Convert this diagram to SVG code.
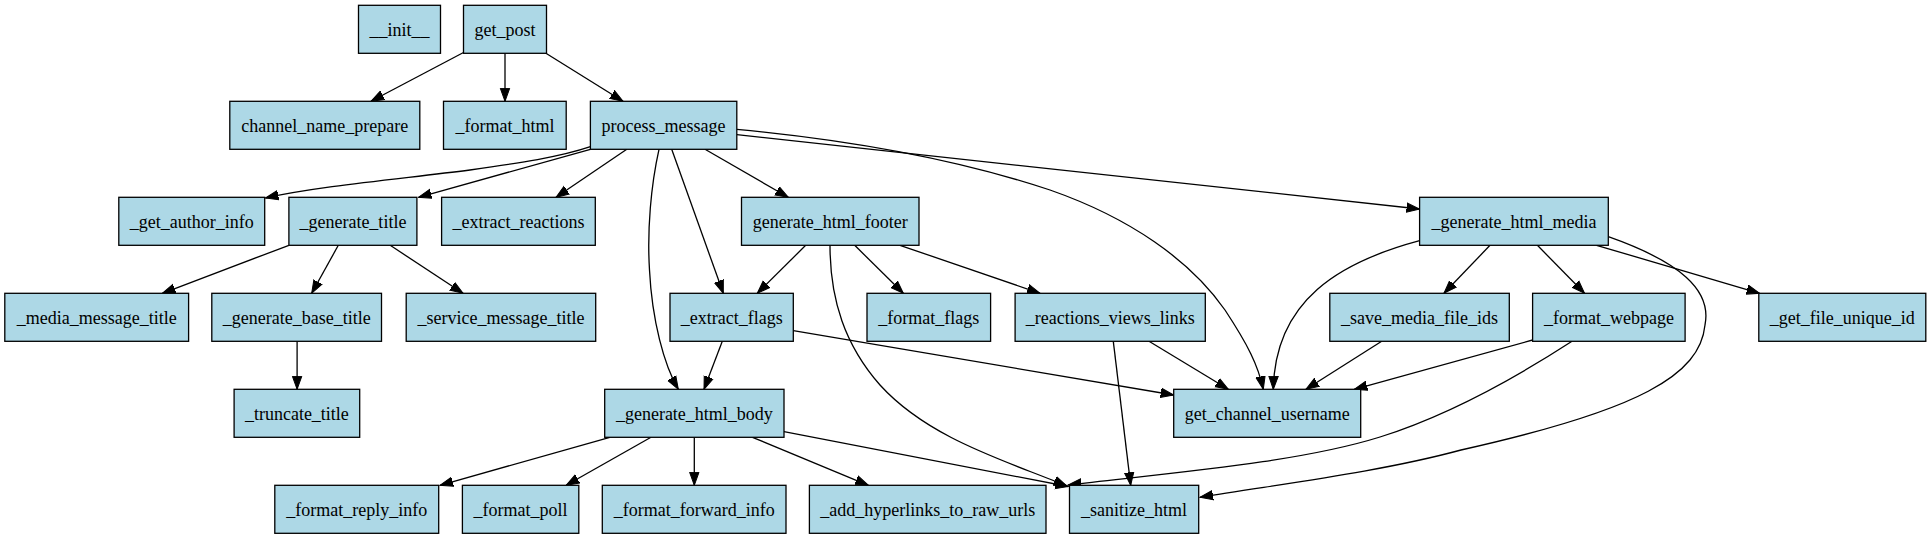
<svg xmlns="http://www.w3.org/2000/svg" width="1931" height="539" viewBox="0 0 1931 539">
<style>
.n rect{fill:#add8e6;stroke:#000;stroke-width:1.3}
.n text{font-family:"Liberation Serif","Times New Roman",serif;font-size:18px;fill:#000;text-anchor:middle}
.e path{fill:none;stroke:#000;stroke-width:1.3;marker-end:url(#ah)}
</style>
<defs>
<marker id="ah" markerUnits="userSpaceOnUse" markerWidth="14" markerHeight="12" refX="13" refY="5" orient="auto" viewBox="0 0 14 10">
<polygon points="0,0.3 13,5 0,9.7" fill="#000" stroke="#000" stroke-width="1"/>
</marker>
</defs>
<rect width="1931" height="539" fill="#fff"/>
<g id="connectors" class="e">
<path d="M463.5,52.5 L371,101.3"/>
<path d="M505,53.3 L505,101.3"/>
<path d="M545.5,53 L623,101.3"/>
<path d="M590.4,146.7 C560,157 520,163 470,170 C400,179 320,186 265.5,198"/>
<path d="M590.4,149.3 L418.5,197.3"/>
<path d="M626.8,149.3 L556,197.3"/>
<path d="M659,149.3 C651,185 647,230 649.5,270 C652,320 664,365 678.3,389.3"/>
<path d="M671.7,149.3 L723.3,293.3"/>
<path d="M705,149.3 L788.3,197.3"/>
<path d="M736.8,129.3 C850,140 960,160 1050,190 C1130,218 1190,260 1225,310 C1248,345 1258,365 1263.3,389.3"/>
<path d="M736.8,134.7 L1419.6,209"/>
<path d="M288.9,245.3 L162.4,293.3"/>
<path d="M338.3,245.3 L311.7,293.3"/>
<path d="M390.2,245.3 L463,293.3"/>
<path d="M297.1,341.3 L297.1,389.3"/>
<path d="M805.7,245.3 L757.3,293.3"/>
<path d="M854.7,245.3 L903.3,293.3"/>
<path d="M900,245.3 L1040,293.3"/>
<path d="M830,245.3 C830,300 845,345 880,385 C930,440 1010,462 1066.7,486"/>
<path d="M722.3,341.3 L704,389.3"/>
<path d="M793.3,330.7 L1173.7,395"/>
<path d="M1149,341.3 L1228.3,389.3"/>
<path d="M1113.3,341.3 L1130.7,485.3"/>
<path d="M1419.6,240.7 C1340,262 1275,300 1273.3,389.3"/>
<path d="M1490,245.3 L1444,293.3"/>
<path d="M1537.4,245.3 L1584.5,293.3"/>
<path d="M1596.6,245.3 L1759.6,293.3"/>
<path d="M1608.3,236.7 C1680,262 1712,290 1705,325 C1700,375 1640,410 1461,450 C1380,472 1280,484 1200,497.3"/>
<path d="M1381.7,341.3 L1306,389.3"/>
<path d="M1532.6,340 L1354.3,389.3"/>
<path d="M1572,341.3 C1520,375 1450,415 1380,437 C1300,462 1180,472 1068.3,485"/>
<path d="M609.8,437.3 L440,485.3"/>
<path d="M651,437.3 L566.2,485.3"/>
<path d="M694.3,437.3 L694.3,485.3"/>
<path d="M752.5,437.3 L868.3,485.3"/>
<path d="M784,431.7 L1068.3,486.5"/>
</g>
<g id="n_init" class="n"><rect x="358.5" y="5.3" width="82" height="48"/><text x="399.5" y="35.7">__init__</text></g>
<g id="n_get_post" class="n"><rect x="463.5" y="5.3" width="83" height="48"/><text x="505" y="35.7">get_post</text></g>
<g id="n_channel_name_prepare" class="n"><rect x="229.8" y="101.3" width="190" height="48"/><text x="324.8" y="131.7">channel_name_prepare</text></g>
<g id="n_format_html" class="n"><rect x="443.5" y="101.3" width="122.7" height="48"/><text x="504.9" y="131.7">_format_html</text></g>
<g id="n_process_message" class="n"><rect x="590.4" y="101.3" width="146.4" height="48"/><text x="663.6" y="131.7">process_message</text></g>
<g id="n_get_author_info" class="n"><rect x="118.8" y="197.3" width="145.9" height="48"/><text x="191.8" y="227.7">_get_author_info</text></g>
<g id="n_generate_title" class="n"><rect x="288.9" y="197.3" width="128" height="48"/><text x="352.9" y="227.7">_generate_title</text></g>
<g id="n_extract_reactions" class="n"><rect x="441.6" y="197.3" width="153.7" height="48"/><text x="518.5" y="227.7">_extract_reactions</text></g>
<g id="n_generate_html_footer" class="n"><rect x="741.5" y="197.3" width="177.5" height="48"/><text x="830.3" y="227.7">generate_html_footer</text></g>
<g id="n_generate_html_media" class="n"><rect x="1419.6" y="197.3" width="188.7" height="48"/><text x="1514" y="227.7">_generate_html_media</text></g>
<g id="n_media_message_title" class="n"><rect x="4.8" y="293.3" width="183.8" height="48"/><text x="96.7" y="323.7">_media_message_title</text></g>
<g id="n_generate_base_title" class="n"><rect x="211.8" y="293.3" width="169.7" height="48"/><text x="296.7" y="323.7">_generate_base_title</text></g>
<g id="n_service_message_title" class="n"><rect x="406.2" y="293.3" width="189.5" height="48"/><text x="501" y="323.7">_service_message_title</text></g>
<g id="n_extract_flags" class="n"><rect x="670" y="293.3" width="123.3" height="48"/><text x="731.7" y="323.7">_extract_flags</text></g>
<g id="n_format_flags" class="n"><rect x="867" y="293.3" width="123.6" height="48"/><text x="928.8" y="323.7">_format_flags</text></g>
<g id="n_reactions_views_links" class="n"><rect x="1015.1" y="293.3" width="190.2" height="48"/><text x="1110.2" y="323.7">_reactions_views_links</text></g>
<g id="n_save_media_file_ids" class="n"><rect x="1329.8" y="293.3" width="179.5" height="48"/><text x="1419.6" y="323.7">_save_media_file_ids</text></g>
<g id="n_format_webpage" class="n"><rect x="1532.6" y="293.3" width="152.5" height="48"/><text x="1608.9" y="323.7">_format_webpage</text></g>
<g id="n_get_file_unique_id" class="n"><rect x="1758.8" y="293.3" width="167" height="48"/><text x="1842.3" y="323.7">_get_file_unique_id</text></g>
<g id="n_truncate_title" class="n"><rect x="234.1" y="389.3" width="125.6" height="48"/><text x="296.9" y="419.7">_truncate_title</text></g>
<g id="n_generate_html_body" class="n"><rect x="604.7" y="389.3" width="179.3" height="48"/><text x="694.4" y="419.7">_generate_html_body</text></g>
<g id="n_get_channel_username" class="n"><rect x="1173.7" y="389.3" width="187" height="48"/><text x="1267.2" y="419.7">get_channel_username</text></g>
<g id="n_format_reply_info" class="n"><rect x="274.8" y="485.3" width="163.9" height="48"/><text x="356.8" y="515.7">_format_reply_info</text></g>
<g id="n_format_poll" class="n"><rect x="462.4" y="485.3" width="116.4" height="48"/><text x="520.6" y="515.7">_format_poll</text></g>
<g id="n_format_forward_info" class="n"><rect x="602.3" y="485.3" width="183.7" height="48"/><text x="694.2" y="515.7">_format_forward_info</text></g>
<g id="n_add_hyperlinks_to_raw_urls" class="n"><rect x="809.4" y="485.3" width="236.6" height="48"/><text x="927.7" y="515.7">_add_hyperlinks_to_raw_urls</text></g>
<g id="n_sanitize_html" class="n"><rect x="1069.5" y="485.3" width="129.2" height="48"/><text x="1134.1" y="515.7">_sanitize_html</text></g>
</svg>
